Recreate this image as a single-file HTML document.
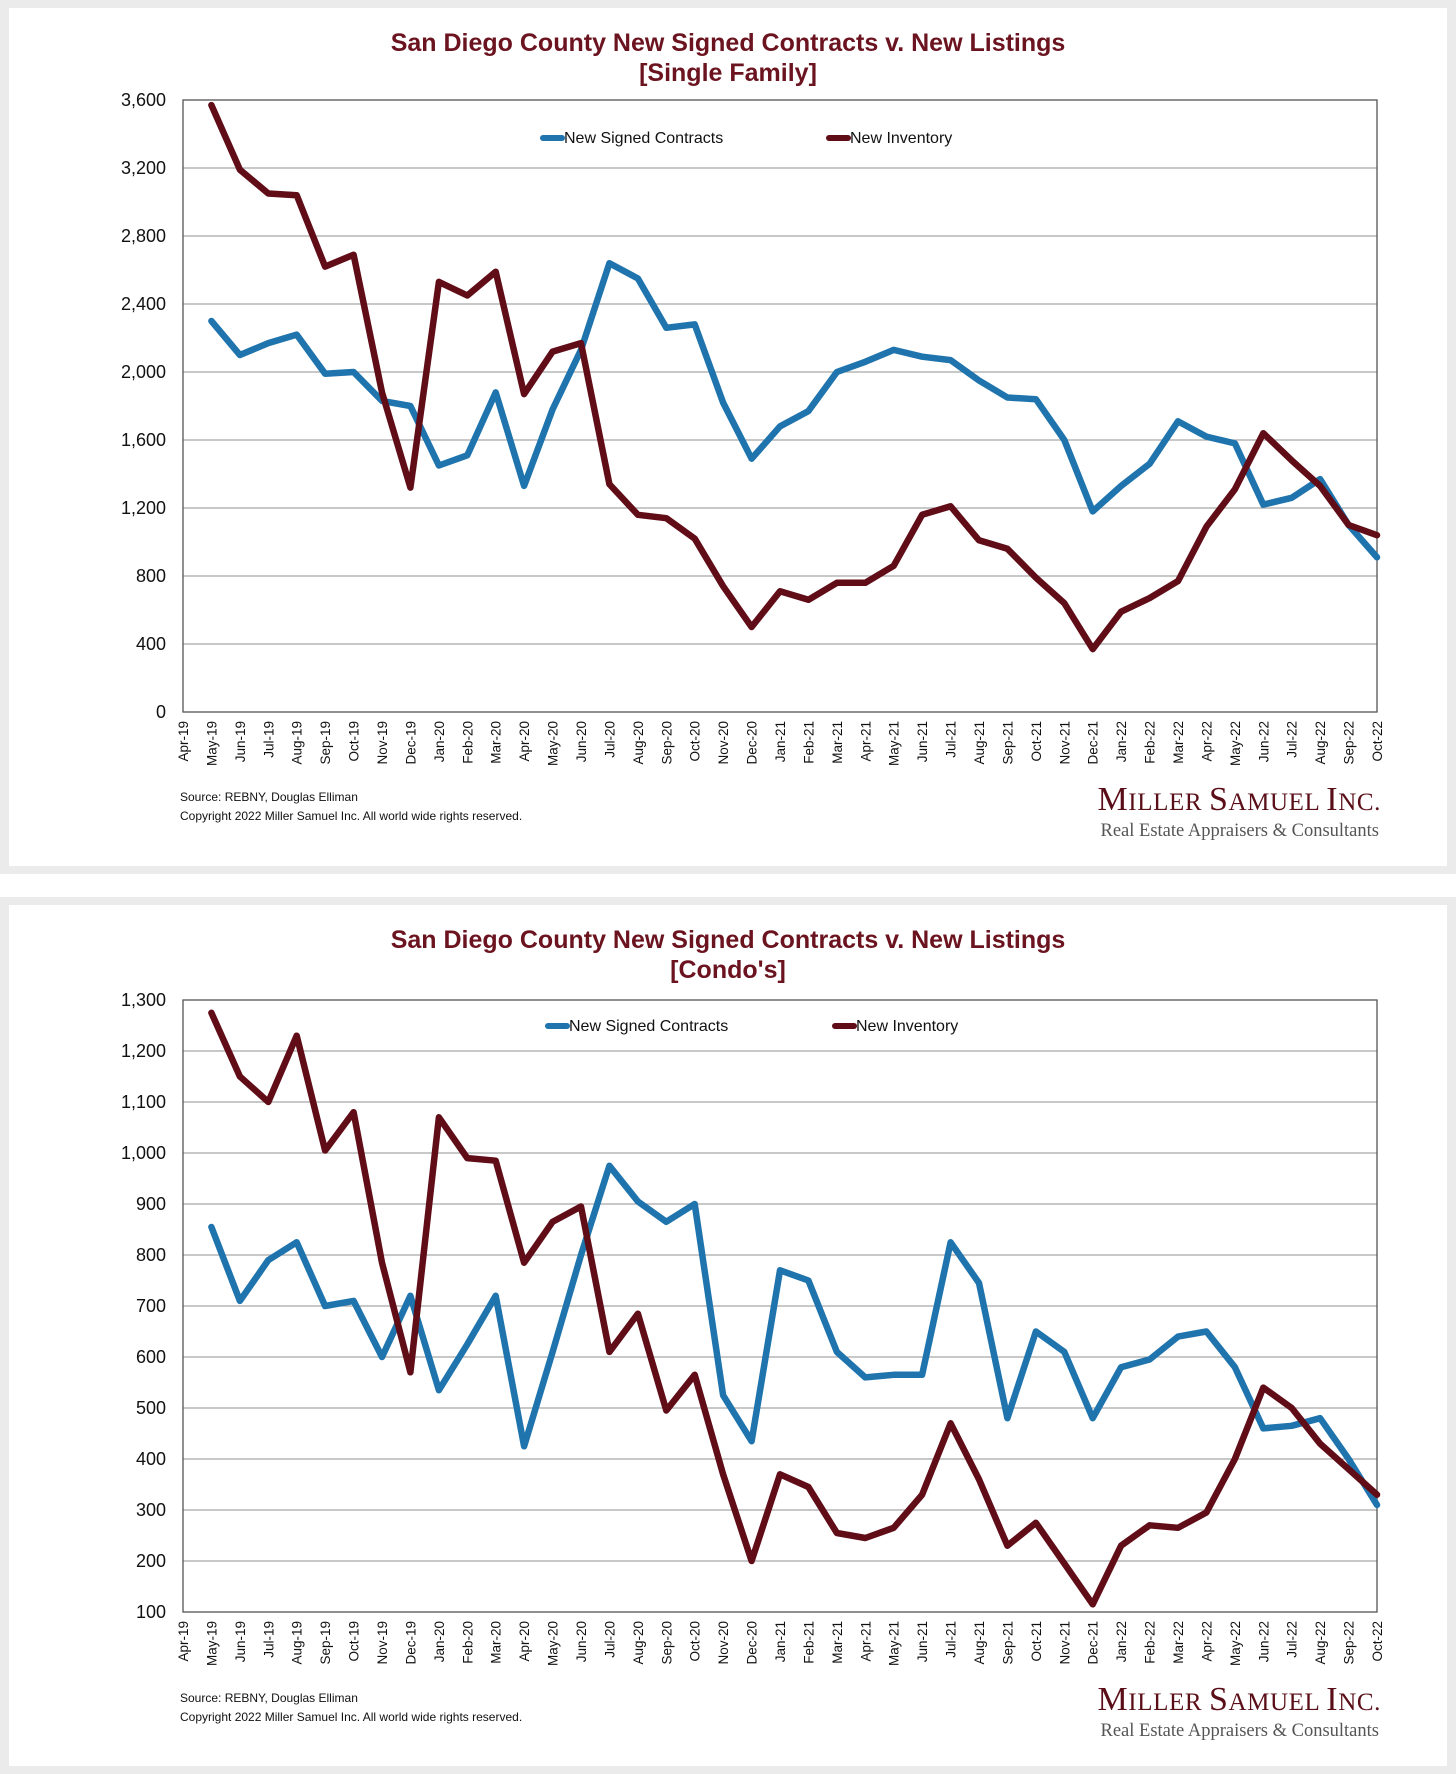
<!DOCTYPE html>
<html><head><meta charset="utf-8">
<style>
html,body{margin:0;padding:0;background:#fff;}
body{width:1456px;height:1774px;position:relative;overflow:hidden;font-family:"Liberation Sans",sans-serif;}
.panel{position:absolute;left:0;width:1456px;background:#ebebeb;}
.inner{position:absolute;left:9px;right:9px;top:8px;bottom:8px;background:#fff;}
svg{position:absolute;left:0;top:0;}
</style></head>
<body>
<div class="panel" style="top:0;height:874px;"><div class="inner"></div></div>
<div class="panel" style="top:897px;height:877px;"><div class="inner"></div></div>
<svg id="chart" width="1456" height="1774"></svg>
<script>
const months=["Apr-19","May-19","Jun-19","Jul-19","Aug-19","Sep-19","Oct-19","Nov-19","Dec-19","Jan-20","Feb-20","Mar-20","Apr-20","May-20","Jun-20","Jul-20","Aug-20","Sep-20","Oct-20","Nov-20","Dec-20","Jan-21","Feb-21","Mar-21","Apr-21","May-21","Jun-21","Jul-21","Aug-21","Sep-21","Oct-21","Nov-21","Dec-21","Jan-22","Feb-22","Mar-22","Apr-22","May-22","Jun-22","Jul-22","Aug-22","Sep-22","Oct-22"];
const sfContracts=[null,2300,2100,2170,2220,1990,2000,1830,1800,1450,1510,1880,1330,1780,2130,2640,2550,2260,2280,1820,1490,1680,1770,2000,2060,2130,2090,2070,1950,1850,1840,1600,1180,1330,1460,1710,1620,1580,1220,1260,1370,1100,910];
const sfInventory=[null,3570,3190,3050,3040,2620,2690,1880,1320,2530,2450,2590,1870,2120,2170,1340,1160,1140,1020,740,500,710,660,760,760,860,1160,1210,1010,960,790,640,370,590,670,770,1090,1310,1640,1480,1330,1100,1040];
const sfTicks=[0,400,800,1200,1600,2000,2400,2800,3200,3600];
const cdContracts=[null,855,710,790,825,700,710,600,720,535,625,720,425,610,800,975,905,865,900,525,435,770,750,610,560,565,565,825,745,480,650,610,480,580,595,640,650,580,460,465,480,400,310];
const cdInventory=[null,1275,1150,1100,1230,1005,1080,785,570,1070,990,985,785,865,895,610,685,495,565,370,200,370,345,255,245,265,330,470,360,230,275,195,115,230,270,265,295,400,540,500,430,380,330];
const cdTicks=[100,200,300,400,500,600,700,800,900,1000,1100,1200,1300];

const NS="http://www.w3.org/2000/svg";
const svg=document.getElementById('chart');
function mk(tag,attrs,parent,text){const e=document.createElementNS(NS,tag);for(const k in attrs)e.setAttribute(k,attrs[k]);if(text!==undefined)e.textContent=text;(parent||svg).appendChild(e);return e;}
const BLUE="#1f74ad",RED="#600d18",TITLE="#6b1420";

function drawChart(cfg){
  const g=mk('g',{});
  
  
  const L=183,R=1377,T=cfg.top,B=cfg.bottom;
  const min=cfg.ticks[0],max=cfg.ticks[cfg.ticks.length-1];
  const xs=i=>L+i*(R-L)/(months.length-1);
  const ys=v=>B-(v-min)/(max-min)*(B-T);
  let t=mk('text',{x:728,y:cfg.titleY,'text-anchor':'middle','font-size':25,'font-weight':'bold',fill:TITLE},g,cfg.title1);
  
  t=mk('text',{x:728,y:cfg.titleY+30,'text-anchor':'middle','font-size':25,'font-weight':'bold',fill:TITLE},g,cfg.title2);
  
  cfg.ticks.forEach(v=>{
    const y=ys(v);
    if(v!==min&&v!==max){const l=mk('line',{x1:L,x2:R,y1:y,y2:y,stroke:'#a8a8a8','stroke-width':1.2},g);}
    const tx=mk('text',{x:L-17,y:y+6,'text-anchor':'end','font-size':18,fill:'#111'},g,v.toLocaleString('en-US'));
    
  });
  const fr=mk('rect',{x:L,y:T,width:R-L,height:B-T,fill:'none',stroke:'#555','stroke-width':1.3},g);
  
  months.forEach((m,i)=>{
    const x=xs(i);
    const tx=mk('text',{x:0,y:0,'text-anchor':'end','font-size':13.5,fill:'#111',transform:`translate(${x+5},${B+9}) rotate(-90)`},g,m);
    
  });
  function series(vals,color,name){
    let d='';vals.forEach((v,i)=>{if(v==null)return;d+=(d?'L':'M')+xs(i).toFixed(1)+','+ys(v).toFixed(1);});
    const p=mk('path',{d:d,fill:'none',stroke:color,'stroke-width':6.5,'stroke-linejoin':'round','stroke-linecap':'round'},g);
    
  }
  series(cfg.contracts,BLUE,'new-signed-contracts-line');
  series(cfg.inventory,RED,'new-inventory-line');
  const ly=cfg.legendY;
  let lg=mk('g',{},g);
  mk('line',{x1:cfg.lx1,x2:cfg.lx1+19,y1:ly-5,y2:ly-5,stroke:BLUE,'stroke-width':6,'stroke-linecap':'round'},lg);
  mk('text',{x:cfg.lx1+21,y:ly,'font-size':16,fill:'#111'},lg,'New Signed Contracts');
  lg=mk('g',{},g);
  mk('line',{x1:cfg.lx2,x2:cfg.lx2+19,y1:ly-5,y2:ly-5,stroke:RED,'stroke-width':6,'stroke-linecap':'round'},lg);
  mk('text',{x:cfg.lx2+21,y:ly,'font-size':16,fill:'#111'},lg,'New Inventory');
  t=mk('text',{x:180,y:cfg.srcY,'font-size':12,fill:'#111'},g,'Source: REBNY, Douglas Elliman');
  
  t=mk('text',{x:180,y:cfg.srcY+19,'font-size':12,fill:'#111'},g,'Copyright 2022 Miller Samuel Inc.  All world wide rights reserved.');
  
  const lo=mk('g',{},g);
  const m=mk('text',{x:1381,y:cfg.logoY,'text-anchor':'end','font-size':34,fill:'#5a0f18','font-family':'"Liberation Serif",serif','letter-spacing':'0.6'},lo);
  [['M',34],['ILLER ',25],['S',34],['AMUEL ',25],['I',34],['NC.',25]].forEach(([s,f])=>mk('tspan',{'font-size':f},m,s));
  mk('text',{x:1379,y:cfg.logoY+26,'text-anchor':'end','font-size':18.5,fill:'#555','font-family':'"Liberation Serif",serif'},lo,'Real Estate Appraisers & Consultants');
}
drawChart({name:'single-family-chart',title1:'San Diego County New Signed Contracts v. New Listings',title2:'[Single Family]',titleY:51,top:100,bottom:712,ticks:sfTicks,contracts:sfContracts,inventory:sfInventory,legendY:143,lx1:543,lx2:829,srcY:801,logoY:810});
drawChart({name:'condo-chart',title1:'San Diego County New Signed Contracts v. New Listings',title2:"[Condo's]",titleY:948,top:1000,bottom:1612,ticks:cdTicks,contracts:cdContracts,inventory:cdInventory,legendY:1031,lx1:548,lx2:835,srcY:1702,logoY:1710});
</script>
</body></html>
